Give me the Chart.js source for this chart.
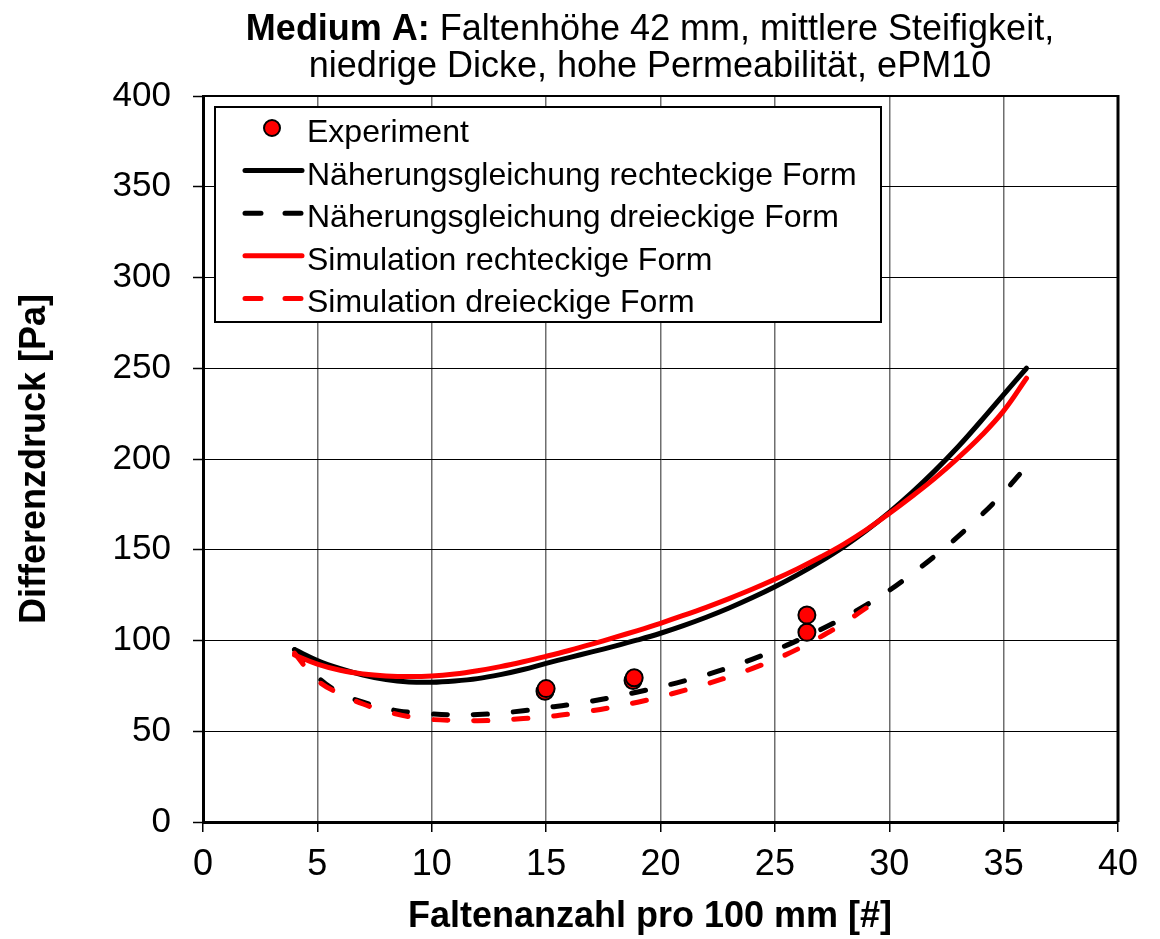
<!DOCTYPE html>
<html lang="de">
<head>
<meta charset="utf-8">
<title>Medium A – Differenzdruck über Faltenanzahl</title>
<script src="https://cdn.jsdelivr.net/npm/chart.js@4/dist/chart.umd.min.js"></script>
<style>
  html, body { margin: 0; padding: 0; background: #fff; }
  #wrap { width: 1160px; height: 939px; position: relative; }
</style>
</head>
<body>
<div id="wrap"><canvas id="chart"></canvas></div>
<script>
// Falten pro 100 mm (x) und Differenzdruck in Pa (y)
const expX = [14.95, 15.0, 18.8, 18.85, 26.4, 26.4];
const expY = [72, 73.5, 78, 79.5, 104.5, 114];

const rectX = [4, 5, 6, 7, 8, 9, 10, 11, 12, 13, 14, 15, 16, 17, 18, 19, 20, 21, 22, 23, 24, 25, 26, 27, 28, 29, 30, 31, 32, 33, 34, 35, 36];
const approxRectY = [95, 89, 84.5, 81, 78.5, 77.2, 77, 77.7, 79, 81.2, 84, 87.4, 90.6, 93.7, 96.9, 100.3, 104, 108.2, 112.8, 117.9, 123.5, 129.6, 136.3, 143.6, 151.6, 160.6, 170.6, 181.6, 193.6, 206.6, 220.8, 235.5, 250];
const simRectY = [92, 87, 83.6, 81.6, 80.5, 80.1, 80.4, 81.5, 83.3, 85.6, 88.3, 91.3, 94.5, 98, 101.7, 105.5, 109.5, 113.8, 118.3, 123.1, 128.2, 133.7, 139.6, 146, 153, 161, 170, 179.5, 189.5, 200.5, 212.5, 226.5, 244.5];

const approxTriX = [4, 5, 6, 7, 8, 9, 10, 11, 12, 13, 14, 15, 16, 17, 18, 19, 20, 21, 22, 23, 24, 25, 26, 27, 28, 29, 30, 31, 32, 33, 34, 35, 36];
const approxTriY = [95, 80, 71, 66, 62.5, 60.5, 59.5, 59, 59.2, 60, 61.3, 63, 64.6, 66.6, 69, 71.6, 74.5, 77.6, 81.1, 85.1, 89.6, 94.6, 100.1, 106, 112.5, 119.6, 127.6, 136.8, 146.6, 157.2, 168.8, 181.6, 196];

const simTriX = [4, 5, 6, 7, 8, 9, 10, 11, 12, 13, 14, 15, 16, 17, 18, 19, 20, 21, 22, 23, 24, 25, 26, 27, 28, 29];
const simTriY = [93, 78, 70.5, 65, 61, 58, 56.5, 56, 55.8, 56.2, 57, 58, 59.5, 61.3, 63.5, 66, 69, 72.4, 76, 80, 84.5, 89.5, 95.3, 102, 109.5, 118];

const xTicksMin = 0, xTicksMax = 40, xStep = 5;
const yTicksMin = 0, yTicksMax = 400, yStep = 50;

const titleBold = 'Medium A:';
const titleRest = ' Faltenhöhe 42 mm, mittlere Steifigkeit,';
const titleLine2 = 'niedrige Dicke, hohe Permeabilität, ePM10';
const xTitle = 'Faltenanzahl pro 100 mm [#]';
const yTitle = 'Differenzdruck [Pa]';

const FONT = '"Liberation Sans", Arial, Helvetica, sans-serif';
const RED = '#ff0000';
const BLACK = '#000000';

const pts = (xs, ys) => xs.map((x, i) => ({ x: x, y: ys[i] }));

function curve(label, xs, ys, color, dashed, order) {
  return {
    label: label,
    data: pts(xs, ys),
    showLine: true,
    borderColor: color,
    backgroundColor: color,
    borderWidth: 5,
    borderDash: dashed ? [14, 26] : [],
    borderCapStyle: 'round',
    borderJoinStyle: 'round',
    pointRadius: 0,
    pointHoverRadius: 0,
    tension: 0.4,
    fill: false,
    order: order
  };
}

// Titel in zwei Zeilen (erster Teil fett) und x-Achsentitel
const titlePlugin = {
  id: 'twoLineTitle',
  afterDraw(chart) {
    const ctx = chart.ctx;
    const cx = 650;
    ctx.save();
    ctx.fillStyle = BLACK;
    ctx.textBaseline = 'alphabetic';
    ctx.textAlign = 'left';
    const bFont = 'bold 36px ' + FONT;
    const nFont = '36px ' + FONT;
    ctx.font = bFont;
    const wb = ctx.measureText(titleBold).width;
    ctx.font = nFont;
    const wr = ctx.measureText(titleRest).width;
    const x = cx - (wb + wr) / 2;
    ctx.font = bFont;
    ctx.fillText(titleBold, x, 40);
    ctx.font = nFont;
    ctx.fillText(titleRest, x + wb, 40);
    ctx.textAlign = 'center';
    ctx.fillText(titleLine2, cx, 77);
    ctx.font = bFont;
    ctx.textBaseline = 'middle';
    ctx.fillText(xTitle, cx, 917);
    ctx.restore();
  }
};

// Rahmen oben und rechts um die Zeichenfläche
const framePlugin = {
  id: 'plotFrame',
  beforeDatasetsDraw(chart) {
    const { ctx, chartArea: a } = chart;
    ctx.save();
    ctx.strokeStyle = BLACK;
    ctx.lineWidth = 2;
    ctx.beginPath();
    ctx.moveTo(a.left, a.top);
    ctx.lineTo(a.right, a.top);
    ctx.stroke();
    ctx.lineWidth = 3;
    ctx.beginPath();
    ctx.moveTo(a.right, a.top - 1);
    ctx.lineTo(a.right, a.bottom);
    ctx.stroke();
    ctx.restore();
  }
};

// Legende mit Rahmen in der linken oberen Ecke
const legendPlugin = {
  id: 'boxLegend',
  afterDraw(chart) {
    const ctx = chart.ctx;
    const box = { l: 215, t: 107, r: 881, b: 322 };
    ctx.save();
    ctx.fillStyle = '#ffffff';
    ctx.fillRect(box.l, box.t, box.r - box.l, box.b - box.t);
    ctx.strokeStyle = BLACK;
    ctx.lineWidth = 2;
    ctx.strokeRect(box.l, box.t, box.r - box.l, box.b - box.t);
    chart.data.datasets.forEach((ds, i) => {
      const y = 128 + i * 42.6;
      if (!ds.showLine) {
        ctx.beginPath();
        ctx.arc(272, y, 8, 0, Math.PI * 2);
        ctx.fillStyle = ds.backgroundColor;
        ctx.fill();
        ctx.lineWidth = 2;
        ctx.strokeStyle = ds.borderColor;
        ctx.stroke();
      } else {
        ctx.beginPath();
        ctx.lineWidth = 5;
        ctx.lineCap = 'round';
        ctx.strokeStyle = ds.borderColor;
        ctx.setLineDash(ds.borderDash && ds.borderDash.length ? [16, 24] : []);
        ctx.lineDashOffset = 0;
        ctx.moveTo(245, y);
        ctx.lineTo(302, y);
        ctx.stroke();
        ctx.setLineDash([]);
      }
      ctx.fillStyle = BLACK;
      ctx.font = '32px ' + FONT;
      ctx.textAlign = 'left';
      ctx.textBaseline = 'alphabetic';
      ctx.fillText(ds.label, 307, y + 14);
    });
    ctx.restore();
  }
};

new Chart(document.getElementById('chart'), {
  type: 'scatter',
  data: {
    datasets: [
      {
        label: 'Experiment',
        data: pts(expX, expY),
        showLine: false,
        backgroundColor: RED,
        borderColor: BLACK,
        borderWidth: 2,
        pointRadius: 8.5,
        pointHoverRadius: 8.5,
        order: 0
      },
      curve('Näherungsgleichung rechteckige Form', rectX, approxRectY, BLACK, false, 4),
      curve('Näherungsgleichung dreieckige Form', approxTriX, approxTriY, BLACK, true, 3),
      curve('Simulation rechteckige Form', rectX, simRectY, RED, false, 2),
      curve('Simulation dreieckige Form', simTriX, simTriY, RED, true, 1)
    ]
  },
  options: {
    responsive: true,
    maintainAspectRatio: false,
    animation: false,
    events: [],
    layout: { padding: { top: 96, right: 42, bottom: 0, left: 0 } },
    plugins: {
      legend: { display: false },
      title: { display: false },
      tooltip: { enabled: false }
    },
    scales: {
      x: {
        type: 'linear',
        min: xTicksMin,
        max: xTicksMax,
        afterFit(scale) { scale.height = 117; },
        ticks: {
          stepSize: xStep,
          color: BLACK,
          font: { family: FONT, size: 36 },
          padding: 11,
          maxRotation: 0
        },
        grid: {
          color: '#6e6e6e',
          lineWidth: 1.5,
          tickColor: BLACK,
          tickWidth: 1.5,
          tickLength: 10
        },
        border: { display: true, color: BLACK, width: 3 },
        title: { display: false, text: xTitle }
      },
      y: {
        type: 'linear',
        min: yTicksMin,
        max: yTicksMax,
        afterFit(scale) { scale.width = 203; },
        ticks: {
          stepSize: yStep,
          color: BLACK,
          font: { family: FONT, size: 35 },
          padding: 22
        },
        grid: {
          color: BLACK,
          lineWidth: 1,
          tickColor: BLACK,
          tickWidth: 1.5,
          tickLength: 10
        },
        border: { display: true, color: BLACK, width: 3 },
        title: {
          display: true,
          text: yTitle,
          color: BLACK,
          font: { family: FONT, size: 36, weight: 'bold' },
          padding: { top: 13, bottom: 0 }
        }
      }
    }
  },
  plugins: [framePlugin, titlePlugin, legendPlugin]
});
</script>
</body>
</html>
